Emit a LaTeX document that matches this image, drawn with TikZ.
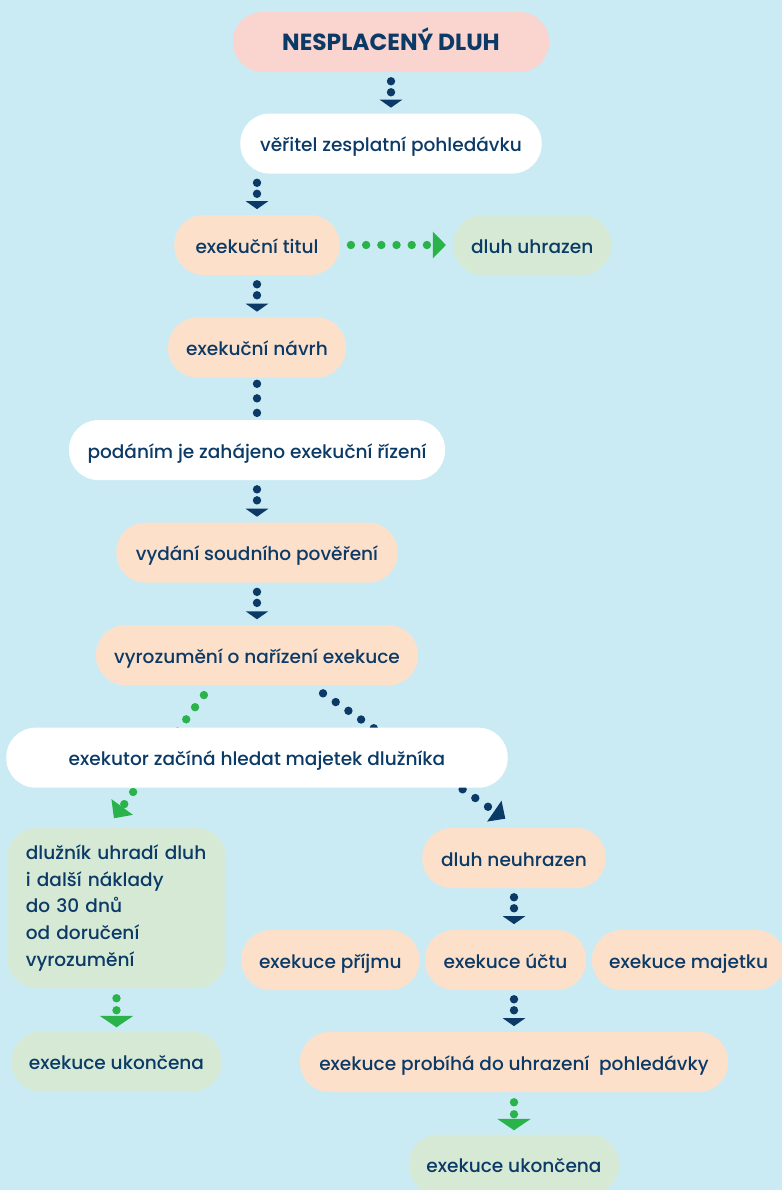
\documentclass[tikz,border=0pt]{standalone}
\usepackage{fontspec}
\setmainfont{Poppins}[UprightFont={* Medium},BoldFont={* Bold}]
\usepackage{tikz}
\usetikzlibrary{arrows.meta, positioning, calc}

\definecolor{bgblue}{HTML}{CBEBF4}
\definecolor{navy}{HTML}{0B3A66}
\definecolor{flowgreen}{HTML}{2BB34B}
\definecolor{titlepink}{HTML}{FAD4CF}
\definecolor{peach}{HTML}{FDE0CA}
\definecolor{mint}{HTML}{D5E9D5}

\begin{document}
\begin{tikzpicture}[
    x=0.75pt, y=-0.75pt,
    stepbox/.style={rectangle, rounded corners=22pt, minimum height=45pt, inner xsep=6pt, text height=12.5pt, text depth=0.5pt, text=navy, font=\fontsize{13.9}{17}\selectfont},
    whitebox/.style={stepbox, fill=white},
    peachbox/.style={stepbox, fill=peach},
    greenbox/.style={stepbox, fill=mint},
    navyflow/.style={navy, line width=6.3pt, line cap=round, dash pattern=on 0pt off 8.25pt, shorten <=6.75pt, shorten >=4.2pt, -{Triangle[width=17pt,length=6pt,line width=0pt]}},
    greenflow/.style={flowgreen, line width=6.3pt, line cap=round, dash pattern=on 0pt off 9pt, shorten <=7.5pt, shorten >=3pt, -{Triangle[width=25pt,length=8.5pt,line width=0pt]}}
]
\useasboundingbox (0,0) rectangle (782,1190);
\clip (0,0) rectangle (782,1190);
\fill[bgblue] (0,0) rectangle (782,1190);

% main column
\node[stepbox, fill=titlepink, minimum width=237pt, font=\bfseries\fontsize{17.5}{20}\selectfont] (dluh) at (391,42) {NESPLACENÝ DLUH};
\node[whitebox, minimum width=226pt, below=30.75pt of dluh] (veritel) {věřitel zesplatní pohledávku};
\node[peachbox, minimum width=124pt] (titul) at (257,245) {exekuční titul};
\node[greenbox, minimum width=118.5pt, right=84.75pt of titul] (uhrazen) {dluh uhrazen};
\node[peachbox, minimum width=133.5pt, below=31.5pt of titul] (navrh) {exekuční návrh};
\node[whitebox, minimum width=282pt, below=31.5pt of navrh] (podani) {podáním je zahájeno exekuční řízení};
\node[peachbox, minimum width=211pt, below=31.5pt of podani] (vydani) {vydání soudního pověření};
\node[peachbox, minimum width=241.5pt, below=31.5pt of vydani] (vyrozumeni) {vyrozumění o nařízení exekuce};

% two branches
\node[greenbox, minimum width=164pt, minimum height=120pt, inner xsep=14pt, text width=136pt, text height=, text depth=, align=left, font=\fontsize{13.9}{20.2}\selectfont] (dluznik) at (116.5,908) {dlužník uhradí dluh\\i další náklady\\do 30 dnů\\od doručení\\vyrozumění};
\node[greenbox, minimum width=157.5pt, below=32.25pt of dluznik] (konec1) {exekuce ukončena};
\node[peachbox, minimum width=137.5pt] (neuhrazen) at (514,858) {dluh neuhrazen};
\node[peachbox, minimum width=121pt] (ucet) at (505.5,960) {exekuce účtu};
\node[peachbox, minimum width=133.5pt, left=3.75pt of ucet] (prijem) {exekuce příjmu};
\node[peachbox, minimum width=145pt, right=4pt of ucet] (majetek) {exekuce majetku};
\node[peachbox, minimum width=321pt] (probiha) at (514,1062) {exekuce probíhá do uhrazení\ \ pohledávky};
\node[greenbox, minimum width=157.5pt, below=31.5pt of probiha] (konec2) {exekuce ukončena};

% diagonals pass under the search box
\draw[greenflow, dash pattern=on 0pt off 11.25pt, shorten <=9pt, shorten >=8.8pt, -{Triangle[width=20pt,length=10.5pt,line width=0pt]}]
    ($(vyrozumeni.south)+(-46,0)$) -- ($(dluznik.north)+(-9.5,0)$);
\draw[navyflow, dash pattern=on 0pt off 11.55pt, shorten <=10.5pt, shorten >=12pt, -{Triangle[width=19pt,length=10pt,line width=0pt]}]
    ($(vyrozumeni.south)+(54.5,0)$) -- ($(neuhrazen.north)+(4.5,0)$);
\node[whitebox, minimum width=376pt, below=31.5pt of vyrozumeni] (exekutor) {exekutor začíná hledat majetek dlužníka};

\draw[navyflow] (dluh) -- (veritel);
\draw[navyflow] (titul.north |- veritel.south) -- (titul);
\draw[greenflow, dash pattern=on 0pt off 11.4pt, shorten <=8.25pt, shorten >=5.25pt, -{Triangle[width=20pt,length=9.75pt,line width=0pt]}] (titul) -- (uhrazen);
\draw[navyflow] (titul) -- (navrh);
\draw[navyflow, dash pattern=on 0pt off 10.9pt, shorten <=4.5pt, shorten >=4.9pt, -] (navrh) -- (podani);
\draw[navyflow] (podani) -- (vydani);
\draw[navyflow] (vydani) -- (vyrozumeni);
\draw[greenflow] (dluznik) -- (konec1);
\draw[navyflow] (neuhrazen) -- (neuhrazen |- ucet.north);
\draw[navyflow] (probiha |- ucet.south) -- (probiha);
\draw[greenflow] (probiha) -- (konec2);
\end{tikzpicture}
\end{document}
